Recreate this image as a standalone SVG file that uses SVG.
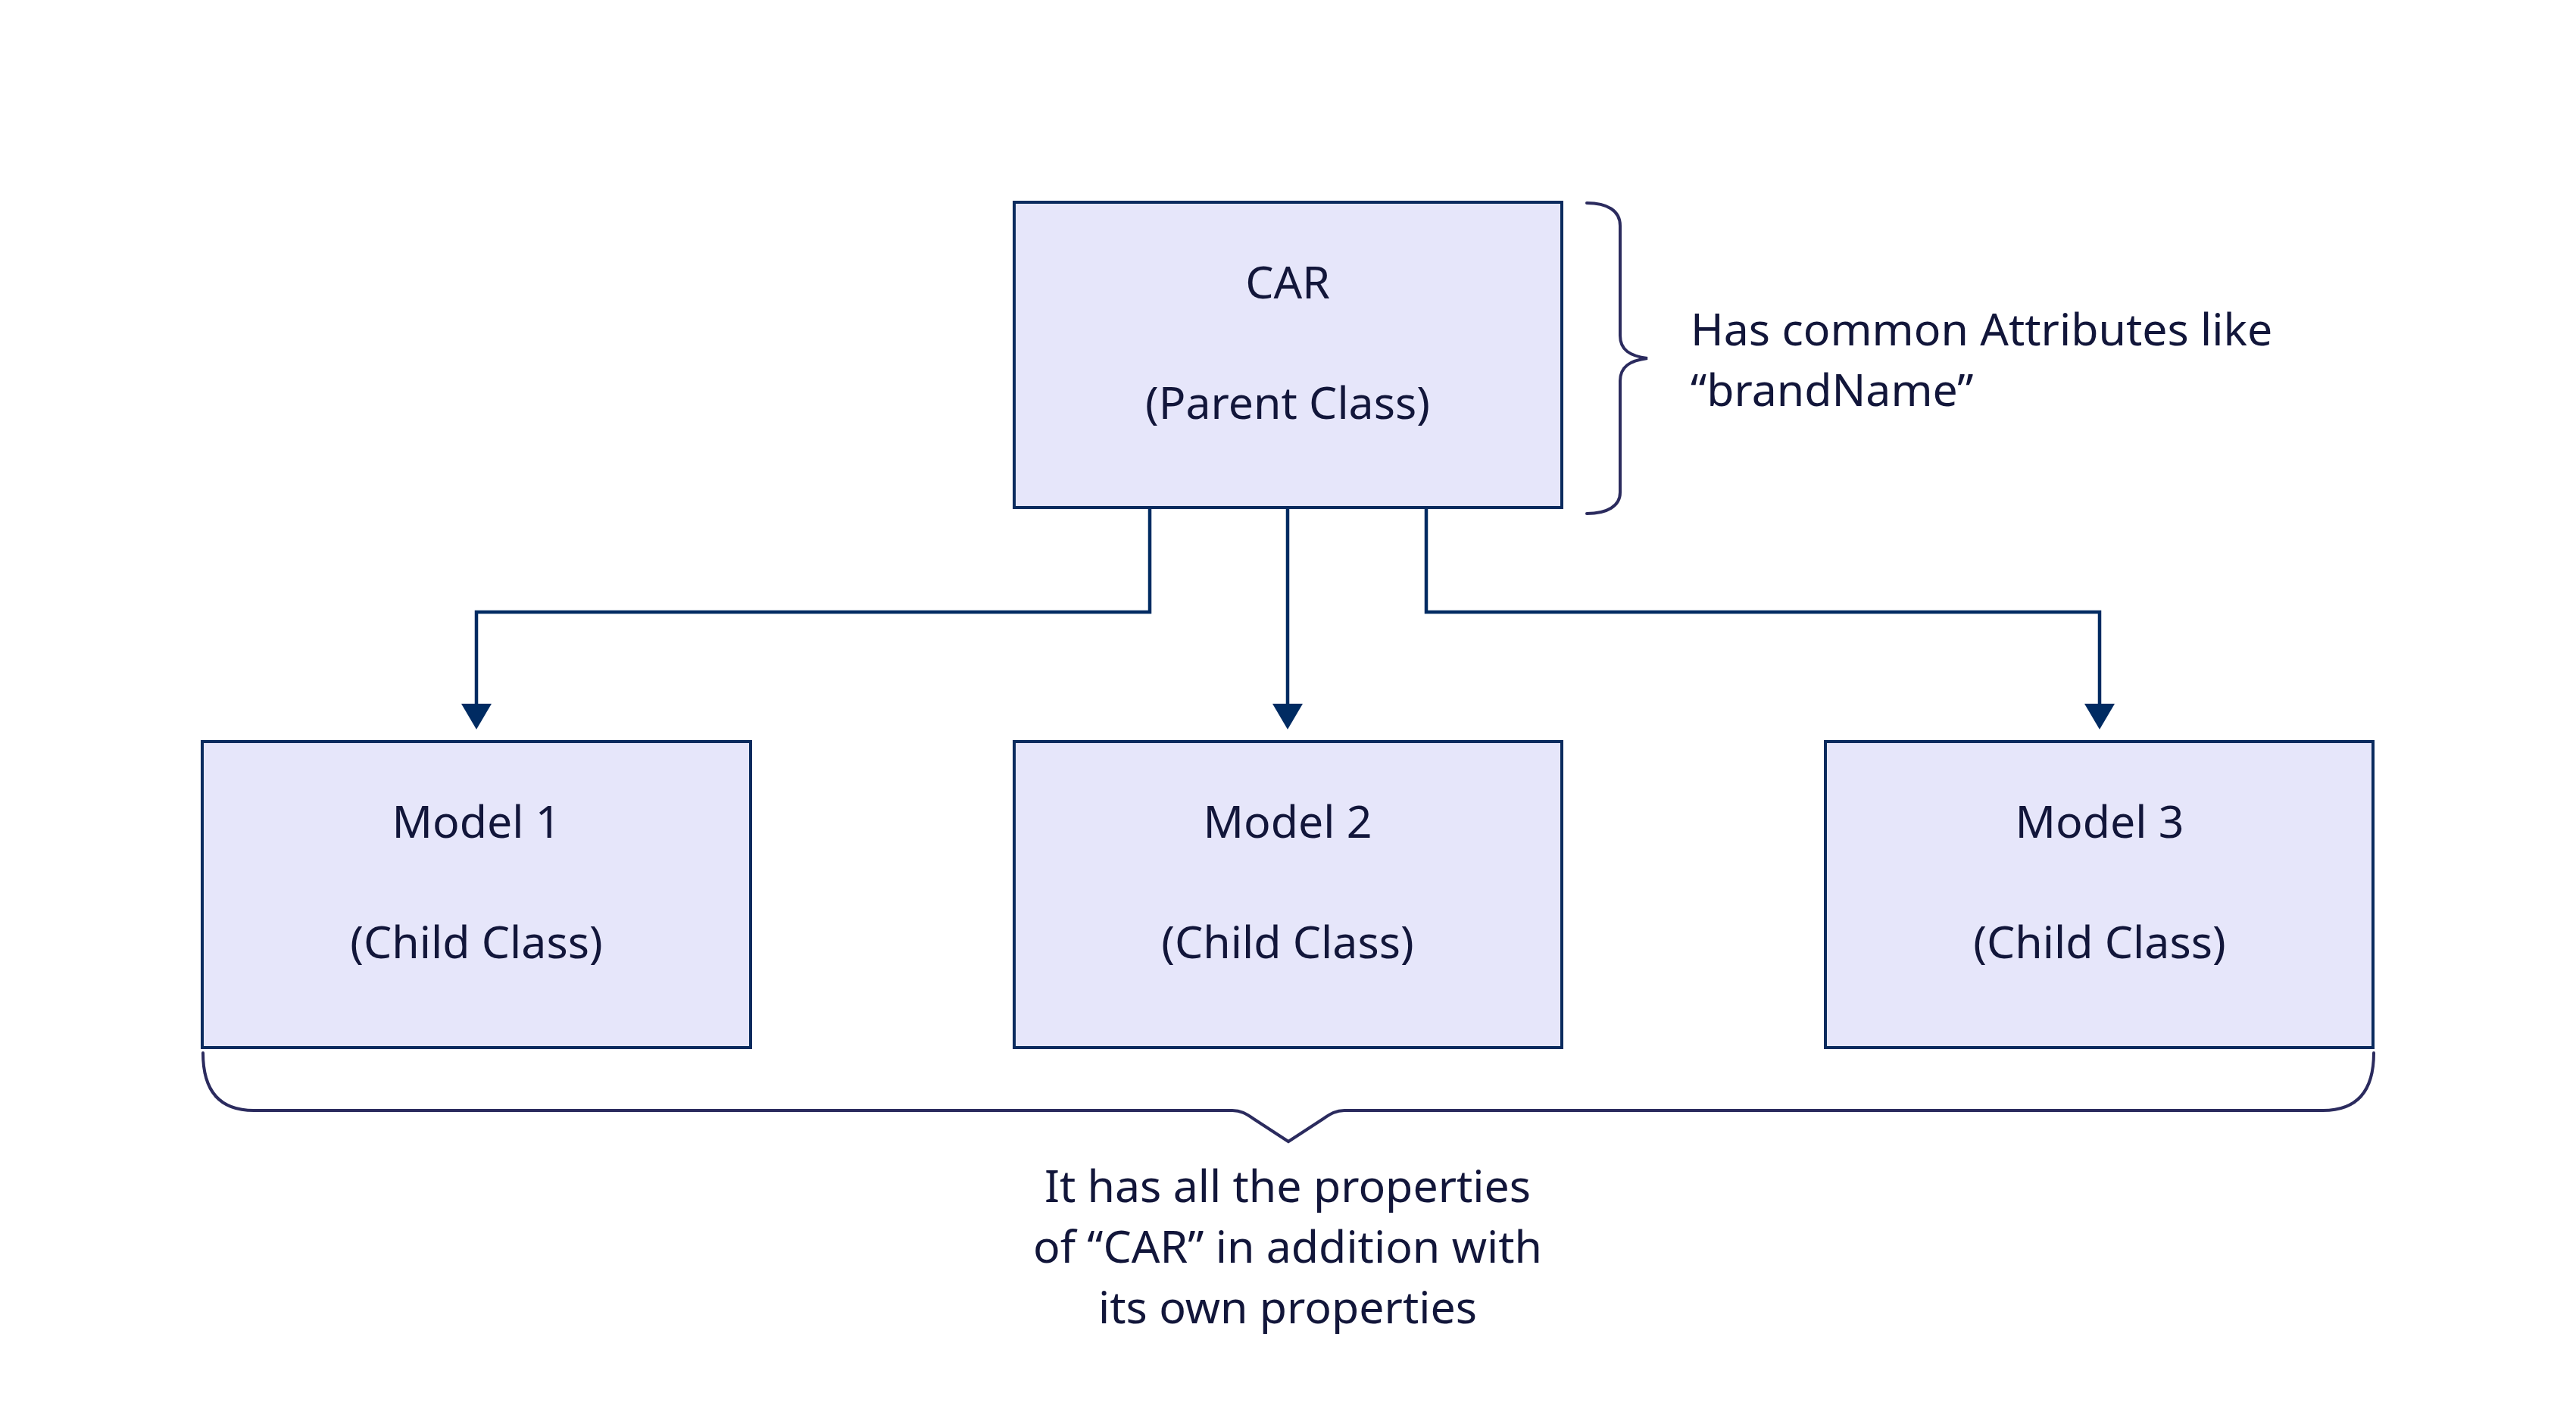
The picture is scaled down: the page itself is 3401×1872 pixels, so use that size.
<svg xmlns="http://www.w3.org/2000/svg" width="3401" height="1872" viewBox="0 0 3401 1872">
  <style>
    .box { fill: #E6E6FA; stroke: #0A2B5E; stroke-width: 4; }
    .lbl { font-family: "Noto Sans", "Liberation Sans", sans-serif; font-size: 59px; fill: #12163A; }
    .mid { text-anchor: middle; }
    .conn { fill: none; stroke: #002B62; stroke-width: 4.5; }
    .brace { fill: none; stroke: #2B2B5E; stroke-width: 4; stroke-linecap: round; stroke-linejoin: miter; }
  </style>
  <defs>
    <marker id="arrow" markerUnits="userSpaceOnUse" markerWidth="36" markerHeight="42" refX="0" refY="20" orient="auto" viewBox="0 0 36 42">
      <path d="M0,0 L34,20 L0,40 Z" fill="#002B62"/>
    </marker>
  </defs>
  <rect x="0" y="0" width="3401" height="1872" fill="#FFFFFF"/>

  <g id="connectors">
    <path class="conn" d="M1518,670 V808 H629 V929" marker-end="url(#arrow)"/>
    <path class="conn" d="M1700,670 V929" marker-end="url(#arrow)"/>
    <path class="conn" d="M1883,670 V808 H2772 V929" marker-end="url(#arrow)"/>
  </g>

  <g id="car">
    <rect class="box" x="1339" y="267" width="723" height="403"/>
    <text class="lbl mid" x="1700" y="394">CAR</text>
    <text class="lbl mid" x="1700" y="553">(Parent Class)</text>
  </g>

  <g id="model1">
    <rect class="box" x="267" y="979" width="724" height="404"/>
    <text class="lbl mid" x="629" y="1106">Model 1</text>
    <text class="lbl mid" x="629" y="1265">(Child Class)</text>
  </g>

  <g id="model2">
    <rect class="box" x="1339" y="979" width="723" height="404"/>
    <text class="lbl mid" x="1700" y="1106">Model 2</text>
    <text class="lbl mid" x="1700" y="1265">(Child Class)</text>
  </g>

  <g id="model3">
    <rect class="box" x="2410" y="979" width="723" height="404"/>
    <text class="lbl mid" x="2772" y="1106">Model 3</text>
    <text class="lbl mid" x="2772" y="1265">(Child Class)</text>
  </g>

  <g id="parent-note">
    <path class="brace" d="M2095,268 C2122,268 2139,278 2139,298 L2139,443 C2139,462 2152,470 2175,473 C2152,476 2139,484 2139,503 L2139,650 C2139,668 2122,678 2095,678"/>
    <text class="lbl" x="2232" y="456">Has common Attributes like</text>
    <text class="lbl" x="2232" y="536">“brandName”</text>
  </g>

  <g id="child-note">
    <path class="brace" d="M268,1390 C268,1440 290,1466 335,1466 L1627,1466 C1638,1466 1645,1470 1655,1477 L1701,1507 L1747,1477 C1757,1470 1764,1466 1775,1466 L3067,1466 C3112,1466 3134,1440 3134,1390"/>
    <text class="lbl mid" x="1700" y="1587">It has all the properties</text>
    <text class="lbl mid" x="1700" y="1667">of “CAR” in addition with</text>
    <text class="lbl mid" x="1700" y="1747">its own properties</text>
  </g>
</svg>
